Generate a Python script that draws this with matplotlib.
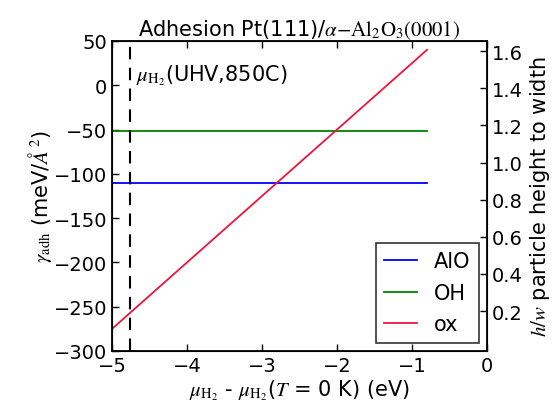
import numpy as np
import matplotlib
matplotlib.use('Agg')
import matplotlib.pyplot as plt

plt.rcParams['mathtext.fontset'] = 'stix'
plt.rcParams['font.size'] = 14

# data
mu = [-5.0, -0.8]
gamma_AlO = [-110, -110]
gamma_OH = [-52, -52]
gamma_ox = [-275, 40]
mu_uhv = -4.76

fig = plt.figure(figsize=(5.59, 4.10), dpi=100)
ax = fig.add_axes([0.2004, 0.1415, 0.6708, 0.7561])

ax.plot(mu, gamma_AlO, color='#0000ff', lw=1.3, label='AlO')
ax.plot(mu, gamma_OH, color='#008000', lw=1.3, label='OH')
ax.plot(mu, gamma_ox, color='#f0143c', lw=1.3, label='ox')
ax.axvline(mu_uhv, color='k', ls='--', lw=1.5, dashes=(6, 4))
ax.text(-4.68, 12, r'$\mu_{\mathrm{H}_2}$(UHV,850C)', fontsize=15, va='center')

ax.set_xlim(-5, 0)
ax.set_ylim(-300, 50)
ax.set_xticks([-5, -4, -3, -2, -1, 0])
ax.set_yticks(np.arange(-300, 51, 50))
ax.tick_params(direction='in', top=True, length=5, width=1, labelsize=14)
ax.set_xlabel(r'$\mu_{\mathrm{H}_2}$ - $\mu_{\mathrm{H}_2}$($T$ = 0 K) (eV)', fontsize=15, labelpad=2)
ax.set_ylabel(r'$\gamma_{\mathrm{adh}}$ (meV/$\AA^2$)', fontsize=15, labelpad=0)
ax.set_title(r'Adhesion Pt(111)/$\alpha\mathrm{-Al}_2\mathrm{O}_3(0001)$', fontsize=15, pad=4)
for s in ax.spines.values():
    s.set_linewidth(1.3)

leg = ax.legend(loc='lower right', fancybox=False, edgecolor='k', fontsize=15,
                handlelength=1.6, borderaxespad=0.4, labelspacing=0.55)
leg.get_frame().set_linewidth(1.2)

ax2 = ax.twinx()
ax2.set_ylim(-0.015, 1.655)
ax2.set_yticks([0.2, 0.4, 0.6, 0.8, 1.0, 1.2, 1.4, 1.6])
ax2.tick_params(direction='in', length=5, width=1, labelsize=14)
ax2.set_ylabel(r'$h/w$ particle height to width', fontsize=15)

fig.savefig('out.png', dpi=100)
